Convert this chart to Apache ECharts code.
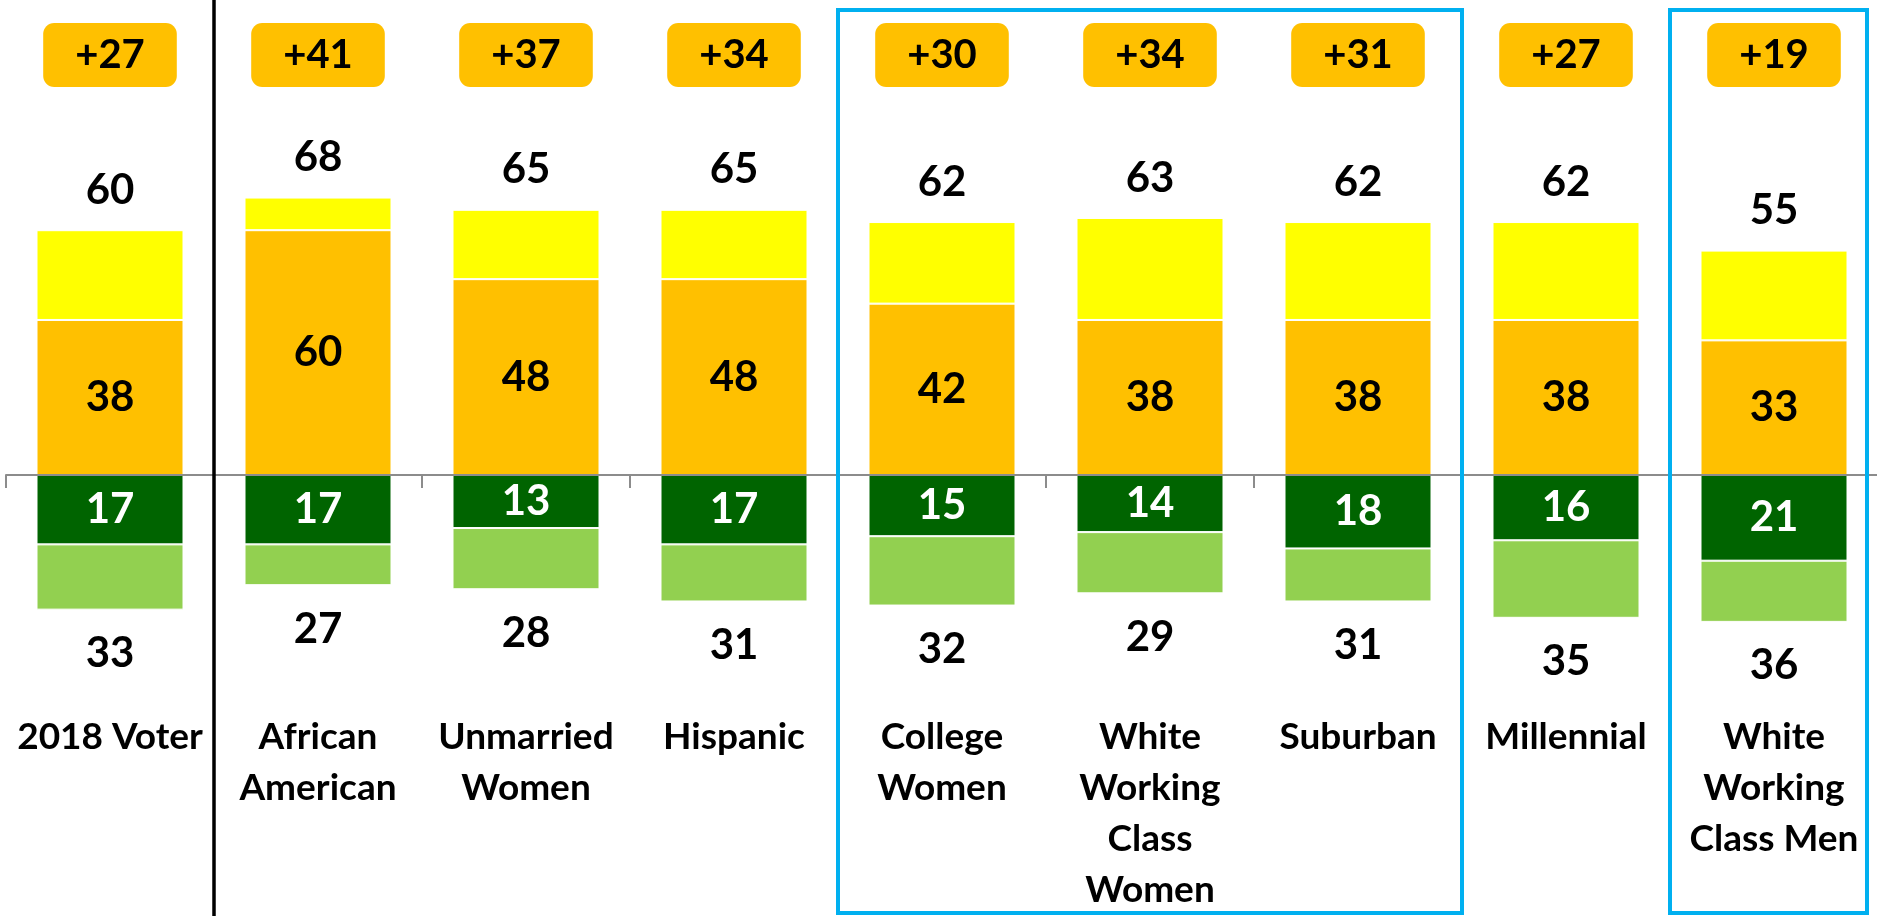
<!DOCTYPE html>
<html>
<head>
<meta charset="utf-8">
<script src="https://cdn.jsdelivr.net/npm/echarts@6/dist/echarts.min.js"></script>
<style>
  html, body { margin: 0; padding: 0; background: #fff; }
  #main { width: 1877px; height: 916px; }
</style>
</head>
<body>
<div id="main"></div>
<script>
// groups along the axis
var categories = ['2018 Voter', 'African\nAmerican', 'Unmarried\nWomen', 'Hispanic', 'College\nWomen',
  'White\nWorking\nClass\nWomen', 'Suburban', 'Millennial', 'White\nWorking\nClass Men'];
// positive side: total and the strong part of it
var positiveTotal = [60, 68, 65, 65, 62, 63, 62, 62, 55];
var strongPositive = [38, 60, 48, 48, 42, 38, 38, 38, 33];
// negative side: strong part and total
var strongNegative = [17, 17, 13, 17, 15, 14, 18, 16, 21];
var negativeTotal = [33, 27, 28, 31, 32, 29, 31, 35, 36];
// net score shown in the boxes on top
var netScore = ['+27', '+41', '+37', '+34', '+30', '+34', '+31', '+27', '+19'];

var weakPositive = positiveTotal.map((t, i) => t - strongPositive[i]);
var weakNegative = negativeTotal.map((t, i) => -(t - strongNegative[i]));
var strongNegValues = strongNegative.map(v => -v);

var FONT = 'Lato, "Open Sans", sans-serif';
var pxPerUnit = 4.08;
var zeroY = 475;

var chart = echarts.init(document.getElementById('main'), null, { renderer: 'canvas' });

var labelStyle = { color: '#000', fontFamily: FONT, fontWeight: 'bold', fontSize: 42, lineHeight: 42 };

var option = {
  animation: false,
  backgroundColor: '#fff',
  grid: [
    // bars
    { left: 6, width: 1872, top: zeroY - 110 * pxPerUnit, height: 210 * pxPerUnit, outerBoundsMode: 'none' },
    // row that carries the category names
    { left: 6, width: 1872, top: 712, height: 10, outerBoundsMode: 'none' }
  ],
  xAxis: [
    {
      type: 'category', gridIndex: 0, data: categories, z: 10,
      axisLine: { onZero: true, lineStyle: { color: '#8c8c8c', width: 2 } },
      axisTick: { show: true, length: 13, lineStyle: { color: '#8c8c8c', width: 2 } },
      axisLabel: { show: false }
    },
    {
      type: 'category', gridIndex: 1, data: categories, position: 'top',
      axisLine: { show: false }, axisTick: { show: false },
      axisLabel: {
        interval: 0, margin: 0, color: '#000', fontFamily: FONT, fontWeight: 'bold',
        fontSize: 37, lineHeight: 51, verticalAlign: 'top', inside: true
      }
    }
  ],
  yAxis: [
    { type: 'value', gridIndex: 0, min: -100, max: 110, show: false, splitLine: { show: false } },
    { type: 'value', gridIndex: 1, show: false, splitLine: { show: false } }
  ],
  series: [
    {
      name: 'strong pos', type: 'bar', stack: 'v', barWidth: 147, data: strongPositive,
      itemStyle: { color: '#FFC000', borderColor: '#fff', borderWidth: 1 },
      label: Object.assign({ show: true, position: 'inside' }, labelStyle)
    },
    {
      name: 'weak pos', type: 'bar', stack: 'v', barWidth: 147, data: weakPositive,
      itemStyle: { color: '#FFFF00', borderColor: '#fff', borderWidth: 1 },
      label: Object.assign({ show: true, position: 'top', distance: 19,
        formatter: p => positiveTotal[p.dataIndex] }, labelStyle)
    },
    {
      name: 'strong neg', type: 'bar', stack: 'v', barWidth: 147, data: strongNegValues,
      itemStyle: { color: '#006400', borderColor: '#fff', borderWidth: 1 },
      label: Object.assign({ show: true, position: 'inside',
        formatter: p => strongNegative[p.dataIndex] }, labelStyle, { color: '#fff' })
    },
    {
      name: 'weak neg', type: 'bar', stack: 'v', barWidth: 147, data: weakNegative,
      itemStyle: { color: '#92D050', borderColor: '#fff', borderWidth: 1 },
      label: Object.assign({ show: true, position: 'bottom', distance: 23,
        formatter: p => negativeTotal[p.dataIndex] }, labelStyle)
    },
    {
      name: 'net', type: 'scatter', symbolSize: 0, z: 5,
      itemStyle: { opacity: 1 },
      data: netScore.map((s, i) => [i, (zeroY - 55) / pxPerUnit]),
      label: {
        show: true, position: 'inside', formatter: p => netScore[p.dataIndex],
        color: '#000', fontFamily: FONT, fontWeight: 'bold', fontSize: 40, lineHeight: 40,
        backgroundColor: '#FFC000', borderRadius: 11, padding: [12, 32]
      }
    }
  ]
};
chart.setOption(option);

// divider and highlight boxes, placed on category boundaries
var px = categories.map((c, i) => chart.convertToPixel({ xAxisIndex: 0 }, i));
var band = px[1] - px[0];
var W = chart.getWidth(), H = chart.getHeight();
var edge = i => px[i] + band / 2;
var box1L = edge(3), box1R = edge(6), box2L = edge(7), box2R = Math.min(edge(8), W - 10);
chart.setOption({
  graphic: [
    { type: 'line', z: 20, shape: { x1: edge(0), y1: 0, x2: edge(0), y2: H }, style: { stroke: '#000', lineWidth: 3.5 } },
    { type: 'rect', z: 20, shape: { x: box1L, y: 10, width: box1R - box1L, height: H - 13 },
      style: { fill: 'none', stroke: '#00B0F0', lineWidth: 4 } },
    { type: 'rect', z: 20, shape: { x: box2L, y: 10, width: box2R - box2L, height: H - 13 },
      style: { fill: 'none', stroke: '#00B0F0', lineWidth: 4 } }
  ]
});
</script>
</body>
</html>
